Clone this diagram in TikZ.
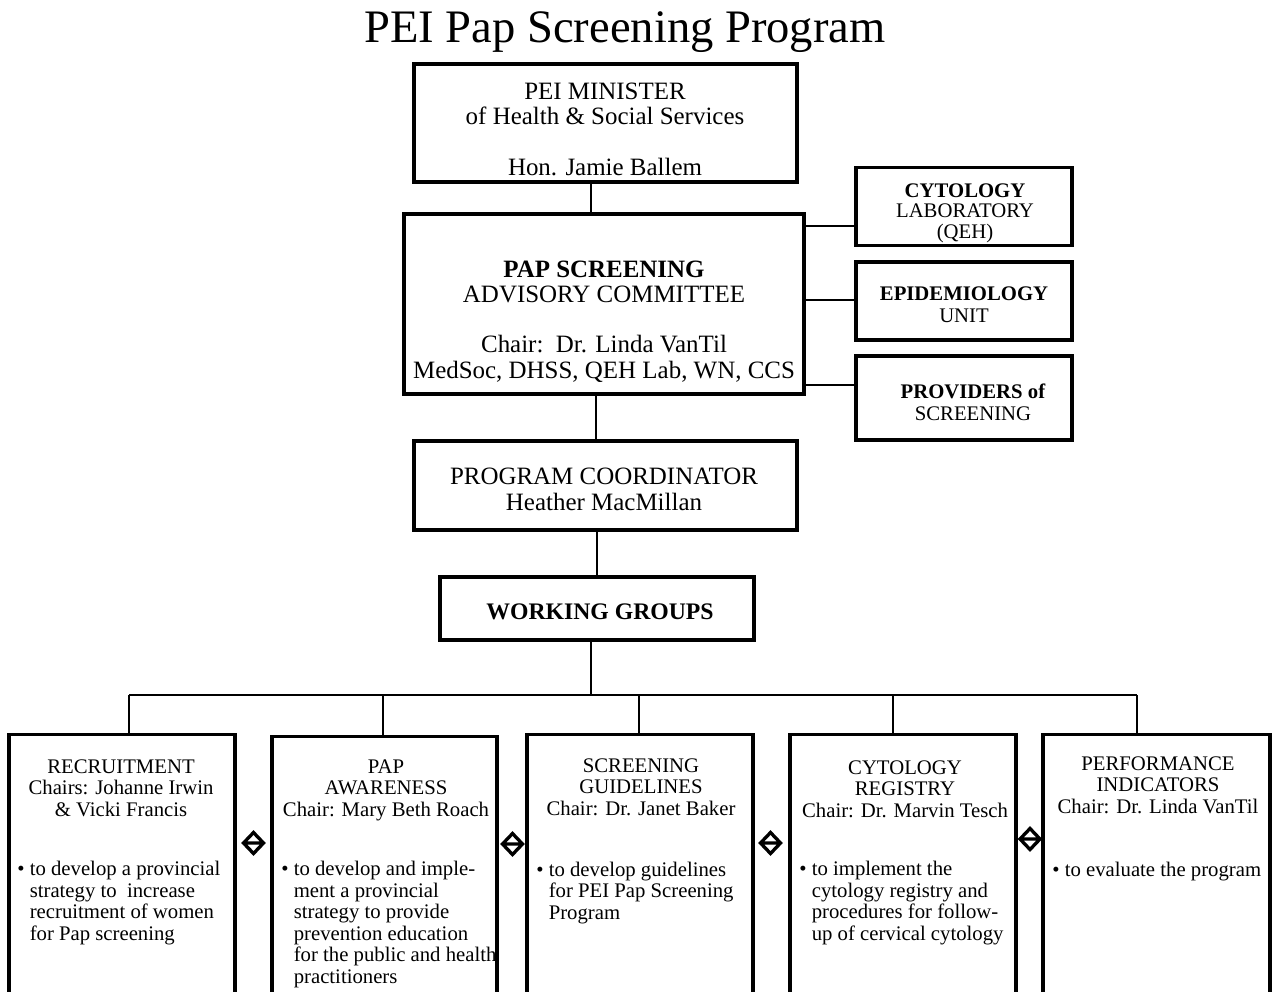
\documentclass[tikz,border=0pt]{standalone}
\usepackage{fontspec}
\setmainfont{Liberation Serif}
\usetikzlibrary{positioning,calc}
\tikzset{
  box/.style={draw,line width=1.8pt,inner sep=0pt},
  conn/.style={line width=1.5pt},
  bigtext/.style={font=\fontsize{14.2}{14.4}\selectfont,align=center,inner sep=0pt,anchor=base},
  smalltext/.style={font=\fontsize{11.8}{12.2}\selectfont,align=center,inner sep=0pt,anchor=base},
  bullettext/.style={font=\fontsize{11.8}{12.2}\selectfont,align=left,inner sep=0pt,anchor=base west},
}
\newcommand{\ind}{\phantom{\textbullet\ }}
\begin{document}
\begin{tikzpicture}[x=0.02cm,y=-0.02cm]
\useasboundingbox (0,0) rectangle (1273,991);
\clip (0,0) rectangle (1273,991);

\node[font=\fontsize{26.5}{26.5}\selectfont,anchor=base,inner sep=0pt] (title) at (625,42) {PEI Pap Screening Program};

% upper boxes
\node[box,minimum width=7.66cm,minimum height=2.36cm] (min) at (605.5,123) {};
\node[box,minimum width=8cm,minimum height=3.6cm] (adv) at (604,304) {};
\node[box,minimum width=4.32cm,minimum height=1.56cm] (lab) at (964,206.5) {};
\node[box,minimum width=4.32cm,minimum height=1.56cm] (epi) at (964,301) {};
\node[box,minimum width=4.32cm,minimum height=1.68cm] (prov) at (964,398) {};
\node[box,minimum width=7.66cm,minimum height=1.78cm] (coord) at (605.5,485.5) {};
\node[box,minimum width=6.28cm,minimum height=1.26cm] (wg) at (597,608.5) {};

\node[bigtext] (mint) at (605,175) {PEI MINISTER\\of Health \& Social Services\\[14.4pt]Hon. Jamie Ballem};
\node[bigtext] (advt) at (604,378) {\textbf{PAP SCREENING}\\ADVISORY COMMITTEE\\[14.2pt]Chair:\ \ Dr. Linda VanTil\\MedSoc, DHSS, QEH Lab, WN, CCS};
\node[bigtext] (coordt) at (604,510) {PROGRAM COORDINATOR\\Heather MacMillan};
\node[font=\bfseries\fontsize{13.5}{13.5}\selectfont,anchor=base,inner sep=0pt] (wgt) at (600,619) {WORKING GROUPS};
\node[smalltext,font=\fontsize{11.8}{11.6}\selectfont] (labt) at (965,238) {\textbf{CYTOLOGY}\\LABORATORY\\(QEH)};
\node[smalltext] (epit) at (964,322) {\textbf{EPIDEMIOLOGY}\\UNIT};
\node[smalltext] (provt) at (973,420) {\textbf{PROVIDERS of}\\SCREENING};

% working groups
\node[box,minimum width=4.52cm,minimum height=5.6cm,anchor=north] (g1) at (122,733) {};
\node[box,minimum width=4.5cm,minimum height=5.6cm,anchor=north] (g2) at (384.5,735) {};
\node[box,minimum width=4.52cm,minimum height=5.6cm,anchor=north] (g3) at (640,733) {};
\node[box,minimum width=4.52cm,minimum height=5.6cm,anchor=north] (g4) at (903,733) {};
\node[box,minimum width=4.54cm,minimum height=5.6cm,anchor=north] (g5) at (1156.5,733) {};

\node[smalltext] (g1h) at (121,816) {RECRUITMENT\\Chairs: Johanne Irwin\\\& Vicki Francis};
\node[smalltext] (g2h) at (386,816) {PAP\\AWARENESS\\Chair: Mary Beth Roach};
\node[smalltext] (g3h) at (641,815) {SCREENING\\GUIDELINES\\Chair: Dr. Janet Baker};
\node[smalltext] (g4h) at (905,817) {CYTOLOGY\\REGISTRY\\Chair: Dr. Marvin Tesch};
\node[smalltext] (g5h) at (1158,813) {PERFORMANCE\\INDICATORS\\Chair: Dr. Linda VanTil};

\node[bullettext] (g1b) at (17,940) {\textbullet\ to develop a provincial\\\ind strategy to\ \ increase\\\ind recruitment of women\\\ind for Pap screening};
\node[bullettext] (g2b) at (281,983) {\textbullet\ to develop and imple-\\\ind ment a provincial\\\ind strategy to provide\\\ind prevention education\\\ind for the public and health\\\ind practitioners};
\node[bullettext] (g3b) at (536,919) {\textbullet\ to develop guidelines\\\ind for PEI Pap Screening\\\ind Program};
\node[bullettext] (g4b) at (799,940) {\textbullet\ to implement the\\\ind cytology registry and\\\ind procedures for follow-\\\ind up of cervical cytology};
\node[bullettext] (g5b) at (1052,876) {\textbullet\ to evaluate the program};

% connectors
\coordinate (top) at (591,0);
\coordinate (mid) at (596,0);
\coordinate (bus) at (591,695);
\draw[conn] (min.south -| top) -- (adv.north -| top);
\draw[conn] (adv.south -| mid) -- (coord.north -| mid);
\draw[conn] (coord.south -| wg) -- (wg.north);
\draw[conn] (wg.south -| bus) -- (bus);
\draw[conn] (adv.east |- 0,226) -- (lab.west |- 0,226);
\draw[conn] (adv.east |- 0,300) -- (epi.west |- 0,300);
\draw[conn] (adv.east |- 0,385) -- (prov.west |- 0,385);

\foreach \i/\x in {1/129,2/383,3/639,4/893,5/1137}{
  \coordinate (b\i) at (\x,695);
  \draw[conn] (b\i) -- (b\i |- g\i.north);
}
\draw[conn] (b1) -- (b5);

% link marks
\foreach \x/\y in {253.5/843,512.5/844,770.5/843,1030/839}{
  \draw[line width=1.9pt,line join=miter] (\x-10,\y) -- (\x,\y-10.5) -- (\x+10,\y) -- (\x,\y+10.5) -- cycle (\x-10,\y) -- (\x+10,\y);
}
\end{tikzpicture}
\end{document}
